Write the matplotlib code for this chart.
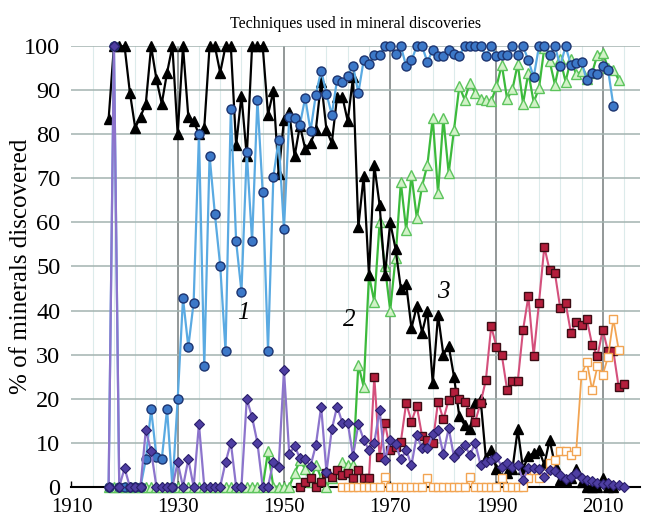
import numpy as np
import matplotlib
matplotlib.use('Agg')
import matplotlib.pyplot as plt

plt.rcParams['font.family'] = 'Liberation Serif'

# percent of minerals discovered per year
# black triangles (3), starts 1917
black_start = 1917
black_vals = [83.5, 100, 100,
              100, 89.5, 81.5, 84, 87, 100, 92.5, 87, 94, 100,
              80, 100, 84, 83, 80, 81.5, 100, 100, 94, 100,
              100, 77.5, 88.8, 75, 100, 100, 100, 84.5, 89.8, 71,
              83.3, 85, 75, 82, 76.7, 78, 81, 92, 81, 78,
              88.5, 88.5, 83, 93, 59, 70.5, 48, 73, 64, 48,
              60, 54, 45, 46, 36, 41, 35, 40, 23.5, 39,
              30, 32, 25, 16, 14, 13, 19, 20, 6.5, 8.3,
              4, 2, 3, 4, 13, 4, 7, 7.6, 8.3, 5,
              10.6, 5, 1.5, 1.5, 2, 4, 1, 0, 0, 0,
              2, 0, 0]

# blue circles (1)
blue_start = 1917
blue_vals = [0, 100, 0,
             0, 0, 0, 0, 6.2, 17.6, 6.8, 6.2, 17.6, 0,
             19.9, 42.8, 31.7, 41.8, 80, 27.3, 75.2, 61.9, 50.2, 30.9,
             85.8, 55.7, 44.3, 76, 55.7, 87.9, 66.8, 30.9, 70.3, 78.8,
             58.5, 84, 83.7, 82.2, 88.3, 80.8, 89, 94.5, 89.2, 84.5,
             92.4, 91.8, 93.2, 95.6, 89.4, 96.8, 96, 98, 98, 100,
             100, 98.3, 100, 95.5, 96.8, 100, 100, 96.4, 99.2, 97.9,
             97.9, 99.1, 98.3, 97.9, 100, 100, 100, 100, 97.9, 100,
             97.9, 98, 98, 100, 98, 100, 96.8, 93, 100, 100,
             98, 100, 95.5, 100, 95.8, 96.2, 96.4, 92.3, 94, 93.8,
             95.6, 94.7, 86.5]

# green hollow triangles (2)
green_start = 1917
green_vals = [0, 0, 0,
              0, 0, 0, 0, 0, 0, 0, 0, 0, 0,
              0, 0, 0, 0, 0, 0, 0, 0, 0, 0,
              0, 0, 0, 0, 0, 0, 0, 8, 0, 0,
              0, 0, 3, 6, 4, 1, 5, 2, 0, 2,
              3, 5.5, 5, 5, 27.7, 22.7, 48, 42, 60, 50,
              40, 52, 69.1, 58.3, 70.8, 61, 68.3, 73.1, 83.7, 66.7,
              83.7, 71.2, 81, 90.9, 87.9, 91.7, 89.5, 88, 87.9, 87.5,
              90.9, 95.8, 88, 90.2, 96, 87, 94, 87.3, 90.5, 99.6,
              96.6, 91.3, 97, 92, 97, 93.6, 94.3, 92.6, 94, 98.1,
              98.5, 95.1, 94.7, 92.4]

# purple diamonds
purple_start = 1917
purple_vals = [0, 100, 0,
               4.2, 0, 0, 0, 12.9, 8, 0, 0, 0, 0,
               5.5, 0, 6.2, 0, 14.2, 0, 0, 0, 0, 5.5,
               10, 0, 0, 19.9, 15.8, 10, 0, 0, 5.7, 4.4,
               26.4, 7.4, 9.2, 6.5, 6.2, 4.7, 9.4, 18.2, 3.3, 13,
               18.2, 14.5, 14.5, 7, 14.2, 10.7, 8.3, 10, 17.4, 6,
               10.7, 9.7, 6.2, 8.3, 4.9, 11.7, 8.7, 8.7, 12, 12.9,
               7.4, 13.3, 6.8, 8, 9.5, 7.2, 9.9, 4.9, 5.7, 6,
               6.8, 4.5, 5.3, 4.5, 4.9, 1.5, 4.2, 4.2, 4, 2.3,
               3.8, 3.6, 2.7, 1.7, 2.1, 3.2, 1.9, 1.5, 1.2, 0.8,
               0.6, 0.8, 0.4, 0.3, 0]

# red squares
red_start = 1953
red_vals = [0, 1, 2, 0, 1, 3, 2.3,
            3.8, 2.7, 3, 1.9, 3.8, 2, 1.9, 25, 6.8, 14.4,
            8.3, 9, 10.2, 19, 14.8, 18.3, 11.5, 10.6, 10, 19.3,
            15.3, 19.7, 21.4, 20, 19.3, 17, 14.8, 19, 24.2, 36.4,
            31.8, 29.9, 22, 23.9, 23.9, 35.6, 43.2, 29.7, 41.8, 54.5,
            49.1, 48.5, 40.5, 41.8, 35, 37.5, 36.8, 38, 32.2, 29.7,
            35.6, 30.7, 30.7, 22.6, 23.3]

# orange hollow squares
orange_start = 1961
orange_vals = [0, 0, 0, 0, 0, 0, 0, 0, 2.3,
               0, 0, 0, 0, 0, 0, 0, 1.9, 0, 0,
               0, 0, 0, 0, 0, 2.1, 0, 0, 0, 0,
               0, 1.9, 0, 0, 0, 0, 2, 3.8, 2, 3,
               5.3, 6, 8, 8, 7.3, 8, 25.4, 28.4, 22, 27.3,
               25.4, 29.5, 38, 31.1]

x_ticks = [1910, 1930, 1950, 1970, 1990, 2010]
y_ticks = list(range(0, 101, 10))


def yrs(start, vals):
    return np.arange(start, start + len(vals))


fig = plt.figure(figsize=(6.47, 5.16), dpi=100)
ax = fig.add_axes([0.1104, 0.0568, 0.8787, 0.8535])

# grid
for yr in range(1914, 2017, 4):
    if yr % 20 != 10:
        ax.axvline(yr, color='#dcebeb', lw=0.8, zorder=0)
for yr in x_ticks[1:]:
    ax.axvline(yr, color='#8a9090', lw=1.3, zorder=0)
for v in y_ticks[1:]:
    ax.axhline(v, color='#a3b3b0', lw=1.1, zorder=0)

ax.plot(yrs(green_start, green_vals), green_vals, '-^', color='#3cba3c', lw=1.6,
        ms=6.5, mfc='#d2f2c8', mec='#5cc45c', mew=1.0, clip_on=False, zorder=3)
ax.plot(yrs(black_start, black_vals), black_vals, '-^', color='black', lw=1.6,
        ms=6.5, mfc='black', mec='black', clip_on=False, zorder=4)
ax.plot(yrs(blue_start, blue_vals), blue_vals, '-o', color='#5aaae2', lw=1.6,
        ms=6.5, mfc='#3c78c8', mec='#1c3470', mew=1.0, clip_on=False, zorder=5)
ax.plot(yrs(red_start, red_vals), red_vals, '-s', color='#d4507c', lw=1.5,
        ms=6, mfc='#b41e3c', mec='#3c0c14', mew=1.0, clip_on=False, zorder=6)
ax.plot(yrs(orange_start, orange_vals), orange_vals, '-s', color='#f2a452', lw=1.3,
        ms=6, mfc='white', mec='#f2a452', mew=1.0, clip_on=False, zorder=6)
ax.plot(yrs(purple_start, purple_vals), purple_vals, '-D', color='#8c74cc', lw=1.6,
        ms=4.8, mfc='#4e3ea2', mec='#2a1e6a', mew=0.8, clip_on=False, zorder=7)

# curve labels
ax.text(1942.3, 39.5, '1', fontsize=18, style='italic', ha='center', va='center', zorder=8)
ax.text(1962.2, 37.8, '2', fontsize=18, style='italic', ha='center', va='center', zorder=8)
ax.text(1980.0, 44.2, '3', fontsize=18, style='italic', ha='center', va='center', zorder=8)

ax.set_xlim(1910, 2017)
ax.set_ylim(0, 100)
ax.set_xticks(x_ticks)
ax.set_yticks(y_ticks)
ax.tick_params(axis='x', direction='in', length=4, width=1, labelsize=15, pad=8)
ax.tick_params(axis='y', length=0, labelsize=17.5, pad=8)
for s in ['left', 'right', 'top']:
    ax.spines[s].set_visible(False)
ax.spines['bottom'].set_linewidth(1.5)
ax.spines['bottom'].set_zorder(2)

ax.set_ylabel('% of minerals discovered', fontsize=18)
ax.yaxis.set_label_coords(-0.07, 0.5)
ax.set_title('Techniques used in mineral discoveries', fontsize=11.5, pad=13)

fig.savefig('out.png', dpi=100)
